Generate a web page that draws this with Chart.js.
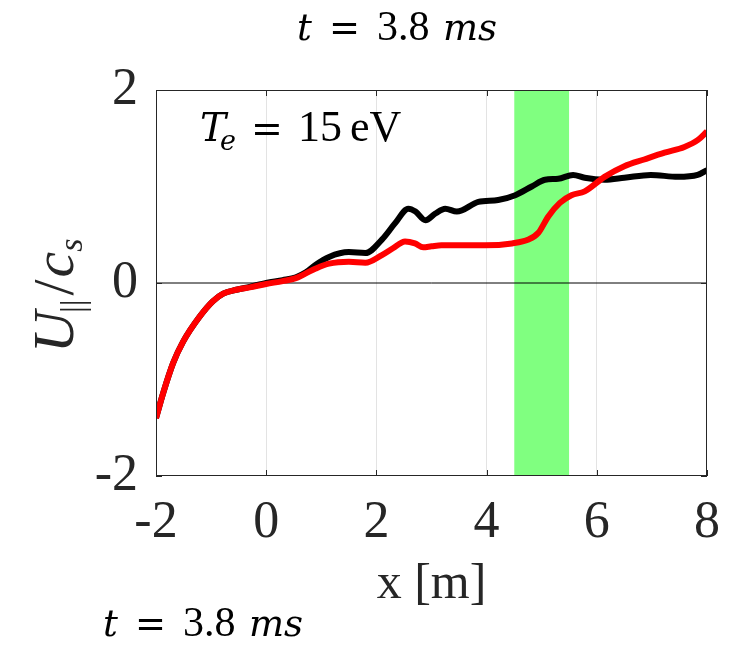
<!DOCTYPE html>
<html>
<head>
<meta charset="utf-8">
<script src="https://cdn.jsdelivr.net/npm/chart.js@4.4.1/dist/chart.umd.min.js"></script>
<style>
    html, body { margin: 0; padding: 0; background: #fff; }
    #wrap { width: 736px; height: 647px; }
</style>
</head>
<body>
<div id="wrap"><canvas id="line_chart"></canvas></div>
<script>
// x positions [m] and U/cs values
var redX = [-2, -1.87, -1.69, -1.51, -1.21, -0.97, -0.78, -0.54, -0.3, 0, 0.3, 0.54, 0.72, 0.9, 1.14, 1.5, 1.8, 2.1, 2.3, 2.52, 2.7, 2.85, 3.0, 3.18, 3.49, 3.97, 4.46, 4.76, 4.94, 5.12, 5.33, 5.54, 5.78, 6.14, 6.5, 6.86, 7.23, 7.59, 7.83, 8];
var redY = [-1.40, -1.14, -0.83, -0.61, -0.35, -0.19, -0.11, -0.07, -0.045, -0.01, 0.02, 0.05, 0.10, 0.15, 0.20, 0.22, 0.21, 0.29, 0.36, 0.43, 0.41, 0.37, 0.38, 0.39, 0.39, 0.39, 0.41, 0.45, 0.52, 0.69, 0.83, 0.91, 0.95, 1.10, 1.21, 1.28, 1.35, 1.41, 1.48, 1.57];

var blackX = [-2, -1.87, -1.69, -1.51, -1.21, -0.97, -0.78, -0.54, -0.3, 0, 0.3, 0.54, 0.72, 0.9, 1.14, 1.5, 1.8, 2.1, 2.34, 2.58, 2.71, 2.89, 3.07, 3.25, 3.46, 3.85, 4.21, 4.52, 4.82, 5.06, 5.3, 5.57, 5.78, 6.14, 6.5, 6.98, 7.47, 7.83, 8];
var blackY = [-1.40, -1.14, -0.83, -0.61, -0.35, -0.19, -0.11, -0.07, -0.04, 0, 0.03, 0.06, 0.11, 0.19, 0.27, 0.32, 0.31, 0.45, 0.62, 0.77, 0.74, 0.65, 0.72, 0.77, 0.74, 0.84, 0.86, 0.91, 1.0, 1.07, 1.08, 1.12, 1.09, 1.07, 1.09, 1.12, 1.10, 1.12, 1.17];

var bandX = [4.5, 5.5];
var xRange = [-2, 8];
var yRange = [-2, 2];
var tickStep = 2;

var titleText = ["t", "=", "3.8", "ms"];
var noteText = ["T", "e", "=", "15", "eV"];
var xLabel = "x [m]";

function pts(xs, ys) {
    var out = [];
    for (var i = 0; i < xs.length; i++) {
        out.push({x: xs[i], y: ys[i]});
    }
    return out;
}

// pieces placed at fixed offsets from a start point
function drawPieces(ctx, parts, x, y) {
    for (var i = 0; i < parts.length; i++) {
        ctx.font = parts[i].font;
        ctx.fillText(parts[i].t, x + parts[i].at, y + (parts[i].dy || 0));
    }
}

// pieces laid out one after the other
function drawRun(ctx, parts, x, y) {
    var cx = x;
    for (var j = 0; j < parts.length; j++) {
        ctx.font = parts[j].font;
        ctx.fillText(parts[j].t, cx, y + (parts[j].dy || 0));
        cx += ctx.measureText(parts[j].t).width + (parts[j].gap || 0);
    }
}

var serif = "'Liberation Serif', 'Times New Roman', serif";
var mathIt = "'DejaVu Serif', serif";
var mathOp = "'DejaVu Sans', sans-serif";

function timeParts() {
    return [
        {t: titleText[0], font: "italic 37px " + mathIt, at: 0},
        {t: titleText[1], font: "37px " + mathOp, at: 32},
        {t: titleText[2], font: "42px " + serif, at: 80},
        {t: titleText[3], font: "italic 37px " + mathIt, at: 146}
    ];
}

var textPlugin = {
    id: 'texts',
    afterDraw: function (chart) {
        var ctx = chart.ctx;
        var area = chart.chartArea;
        var xs = chart.scales.x, ys = chart.scales.y;
        ctx.save();
        ctx.fillStyle = '#000';
        ctx.textBaseline = 'alphabetic';
        ctx.textAlign = 'left';

        // frame and inward tick marks
        ctx.strokeStyle = '#262626';
        ctx.lineWidth = 1;
        ctx.strokeRect(area.left + 0.5, area.top + 0.5, area.right - area.left - 1, area.bottom - area.top - 1);
        ctx.beginPath();
        xs.ticks.forEach(function (t) {
            var px = Math.round(xs.getPixelForValue(t.value)) + 0.5;
            ctx.moveTo(px, area.bottom); ctx.lineTo(px, area.bottom - 6);
            ctx.moveTo(px, area.top); ctx.lineTo(px, area.top + 6);
        });
        ys.ticks.forEach(function (t) {
            var py = Math.round(ys.getPixelForValue(t.value)) + 0.5;
            ctx.moveTo(area.left, py); ctx.lineTo(area.left + 6, py);
            ctx.moveTo(area.right, py); ctx.lineTo(area.right - 6, py);
        });
        ctx.stroke();

        // top title and the repeated one at the bottom
        drawPieces(ctx, timeParts(), 297, 40);
        drawPieces(ctx, timeParts(), 103, 636);

        // annotation inside the axes
        drawPieces(ctx, [
            {t: noteText[0], font: "italic 39px " + mathIt, at: 0},
            {t: noteText[1], font: "italic 27px " + mathIt, at: 20, dy: 9},
            {t: noteText[2], font: "38px " + mathOp, at: 51},
            {t: noteText[3], font: "44px " + serif, at: 98},
            {t: noteText[4], font: "44px " + serif, at: 150}
        ], 200, 141);

        // y axis title U_|| / c_s
        ctx.translate(73, 353);
        ctx.rotate(-Math.PI / 2);
        ctx.fillStyle = '#262626';
        drawRun(ctx, [
            {t: "U", font: "italic 58px " + serif, gap: -2},
            {t: "||", font: "34px " + serif, dy: 11, gap: 4},
            {t: "/", font: "58px " + serif, gap: 2},
            {t: "c", font: "italic 58px " + serif},
            {t: "s", font: "italic 34px " + serif, dy: 9}
        ], 0, 0);
        ctx.restore();
    }
};

var config = {
    type: 'line',
    data: {
        datasets: [{
            label: 'red',
            data: pts(redX, redY),
            borderColor: '#ff0000',
            borderWidth: 6,
            pointRadius: 0,
            cubicInterpolationMode: 'monotone',
            fill: false
        }, {
            label: 'black',
            data: pts(blackX, blackY),
            borderColor: '#000000',
            borderWidth: 6,
            pointRadius: 0,
            cubicInterpolationMode: 'monotone',
            fill: false
        }, {
            label: 'zero',
            data: pts(xRange, [0, 0]),
            borderColor: '#000000',
            borderWidth: 1,
            pointRadius: 0,
            fill: false
        }, {
            label: 'band',
            data: pts(bandX, [yRange[1], yRange[1]]),
            borderWidth: 0,
            borderColor: 'rgba(0,0,0,0)',
            backgroundColor: '#80ff80',
            pointRadius: 0,
            fill: 'start'
        }]
    },
    options: {
        responsive: true,
        maintainAspectRatio: false,
        animation: false,
        layout: { padding: { top: 90, right: 26, left: 0, bottom: 0 } },
        plugins: {
            legend: { display: false },
            tooltip: { enabled: false },
            title: { display: false }
        },
        scales: {
            x: {
                type: 'linear',
                min: xRange[0],
                max: xRange[1],
                afterFit: function (scale) { scale.height = 171; },
                ticks: {
                    stepSize: tickStep,
                    autoSkip: false,
                    maxRotation: 0,
                    padding: 16,
                    color: '#262626',
                    font: { family: serif, size: 52 }
                },
                grid: {
                    drawTicks: false,
                    color: function (c) {
                        var v = c.tick && c.tick.value;
                        return (v > xRange[0] && v < xRange[1]) ? '#e3e3e3' : 'rgba(0,0,0,0)';
                    }
                },
                border: { display: false },
                title: {
                    display: true,
                    text: xLabel,
                    color: '#262626',
                    font: { family: serif, size: 50 },
                    padding: { top: 0, bottom: 32 }
                }
            },
            y: {
                type: 'linear',
                min: yRange[0],
                max: yRange[1],
                afterFit: function (scale) { scale.width = 156; },
                ticks: {
                    stepSize: tickStep,
                    padding: 18,
                    color: '#262626',
                    font: { family: serif, size: 52 }
                },
                grid: { display: false, drawTicks: false },
                border: { display: false }
            }
        }
    },
    plugins: [textPlugin]
};

new Chart(document.getElementById("line_chart").getContext("2d"), config);
</script>
</body>
</html>
